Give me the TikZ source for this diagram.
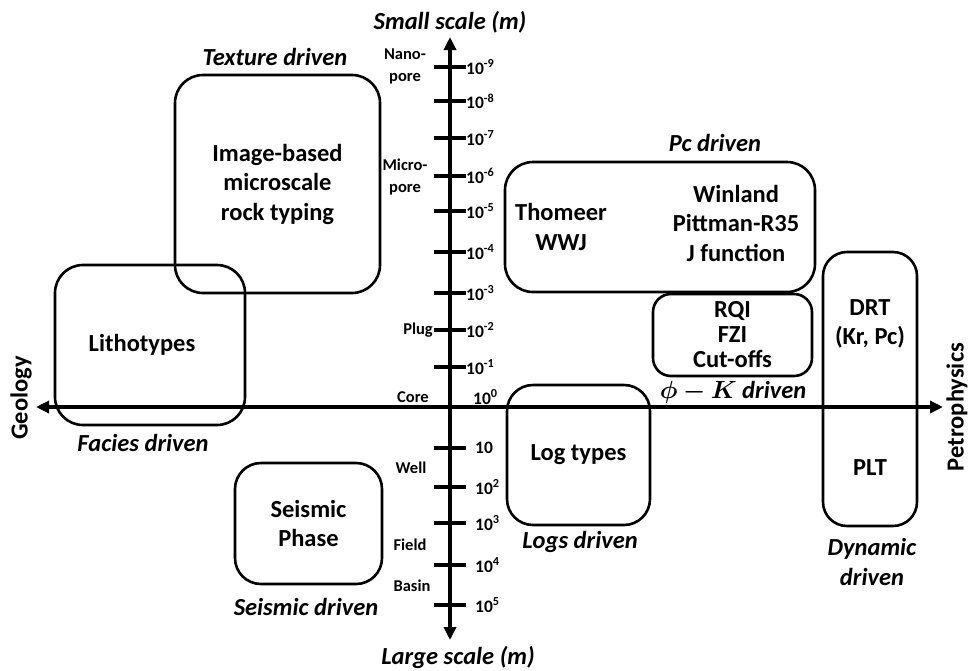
\documentclass[tikz,border=0pt]{standalone}
\usepackage{bm}
\usepackage{fontspec}
\setmainfont{Carlito}
\usetikzlibrary{arrows.meta}
\begin{document}
\begin{tikzpicture}[
  x=1pt, y=-1pt,
  font=\fontsize{24.5}{29.5}\selectfont\bfseries,
  rtbox/.style={draw, line width=2.6pt, rounded corners=28pt, align=center, inner sep=0pt},
  drvlbl/.style={font=\fontsize{24.5}{29.5}\selectfont\bfseries\itshape, align=center, inner sep=0pt},
  ticklbl/.style={font=\fontsize{17.5}{19}\selectfont\bfseries, anchor=west, inner sep=0pt},
  scalelbl/.style={font=\fontsize{16.5}{22}\selectfont\bfseries, align=center, inner sep=0pt},
  axis/.style={line width=3.6pt, {Triangle[length=13pt,width=12pt]}-{Triangle[length=13pt,width=12pt]}}
]
  \useasboundingbox (0,0) rectangle (977,670);
  % axes
  \coordinate (ytop) at (450,37);
  \coordinate (ybot) at (450,640);
  \coordinate (xleft) at (36,407);
  \coordinate (xright) at (943,407);
  \draw[axis] (ytop) -- (ybot);
  \draw[axis] (xleft) -- (xright);
  \node[drvlbl] (small) at (450,22) {Small scale (m)};
  \node[drvlbl] (large) at (458,657) {Large scale (m)};
  \node[rotate=90, inner sep=0pt] (geo) at (21,398) {Geology};
  \node[rotate=90, inner sep=0pt] (petro) at (957,407) {Petrophysics};
  % ticks and scale labels
  \foreach \yy in {67,101,138,176,211,252,293,330,367,448,487,523,565,605}
    \draw[line width=3.6pt] (434,\yy) -- (466,\yy);
  \foreach \yy/\ee [count=\i] in {67/-9,101/-8,138/-7,176/-6,211/-5,252/-4,293/-3,330/-2,367/-1}
    \node[ticklbl] (tn\i) at (466,\yy) {10\textsuperscript{\ee}};
  \node[ticklbl] (t0) at (473,397) {10\textsuperscript{0}};
  \node[ticklbl] (tp1) at (475,448) {10};
  \foreach \yy/\ee in {487/2,523/3,565/4,605/5}
    \node[ticklbl] (tp\ee) at (475,\yy) {10\textsuperscript{\ee}};
  \node[scalelbl] (nano) at (405,66) {Nano-\\pore};
  \node[scalelbl] (micro) at (405,177) {Micro-\\pore};
  \node[scalelbl, anchor=east] (plug) at (433,330) {Plug};
  \node[scalelbl] (core) at (413,397) {Core};
  \node[scalelbl] (well) at (411,468) {Well};
  \node[scalelbl] (field) at (410,545) {Field};
  \node[scalelbl] (basin) at (412,586) {Basin};
  % rock typing boxes
  \node[rtbox, minimum width=205, minimum height=218] (imgrt) at (277.5,184) {Image-based\\microscale\\rock typing};
  \node[drvlbl] (texture) at (275,57) {Texture driven};
  \node[rtbox, minimum width=190, minimum height=160] (litho) at (150,345) {};
  \node (lithotxt) at (142,345) {Lithotypes};
  \node[drvlbl] (facies) at (143,443) {Facies driven};
  \node[rtbox, minimum width=310, minimum height=130] (pcbox) at (660,227) {};
  \node[align=center] (thomeer) at (561,227) {Thomeer\\WWJ};
  \node[align=center] (winland) at (736,223) {Winland\\Pittman-R35\\J function};
  \node[drvlbl] (pcdrv) at (715,143) {Pc driven};
  \node[rtbox, rounded corners=18pt, minimum width=159, minimum height=82,
        font=\fontsize{24.5}{25}\selectfont\bfseries] (rqi) at (732.5,335) {RQI\\FZI\\Cut-offs};
  \node[drvlbl] (phik) at (733,392) {$\bm{\phi - K}$ driven};
  \node[rtbox, rounded corners=24pt, minimum width=94, minimum height=274] (drt) at (870,389) {};
  \node[align=center] (drttxt) at (870,324) {DRT\\(Kr, Pc)};
  \node (plt) at (870,468) {PLT};
  \node[drvlbl] (dyn) at (872,562) {Dynamic\\driven};
  \node[rtbox, rounded corners=26pt, minimum width=143, minimum height=140] (logs) at (578.5,455) {Log types};
  \node[drvlbl] (logdrv) at (580,542) {Logs driven};
  \node[rtbox, rounded corners=26pt, minimum width=147, minimum height=121] (seis) at (308.5,523.5) {Seismic\\Phase};
  \node[drvlbl] (seisdrv) at (306,607) {Seismic driven};
\end{tikzpicture}
\end{document}
